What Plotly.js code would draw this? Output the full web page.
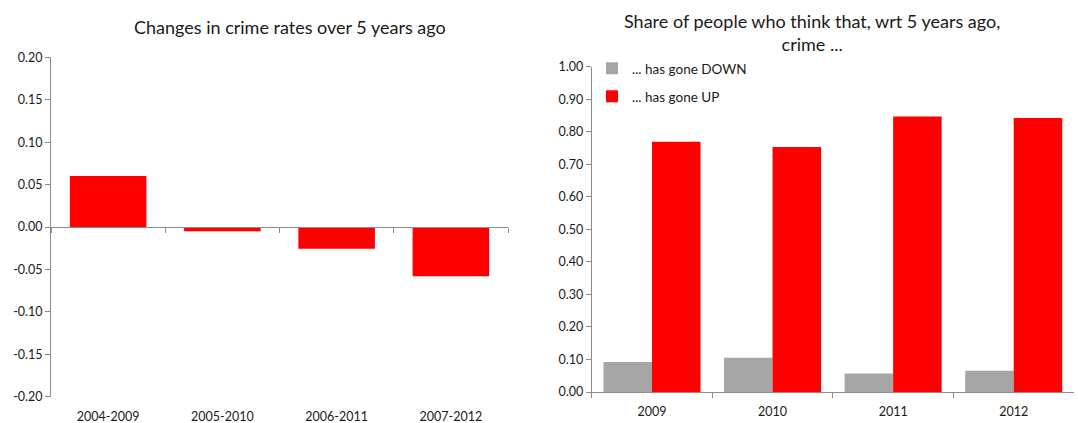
<!DOCTYPE html>
<html>
<head>
<meta charset="utf-8">
<script src="https://cdn.plot.ly/plotly-3.0.1.min.js"></script>
<style>html,body{margin:0;padding:0;background:#fff;}#chart{width:1078px;height:423px;}</style>
</head>
<body>
<div id="chart"></div>
<script>
// Left chart data
const periods = ["2004-2009", "2005-2010", "2006-2011", "2007-2012"];
const crimeChange = [0.060, -0.005, -0.0255, -0.058];
const leftTickVals = [-0.20, -0.15, -0.10, -0.05, 0.00, 0.05, 0.10, 0.15, 0.20];
const leftTickText = ["-0.20", "-0.15", "-0.10", "-0.05", "0.00", "0.05", "0.10", "0.15", "0.20"];

// Right chart data
const years = ["2009", "2010", "2011", "2012"];
const goneDown = [0.092, 0.105, 0.057, 0.065];
const goneUp = [0.769, 0.753, 0.847, 0.842];
const rightTickVals = [0, 0.1, 0.2, 0.3, 0.4, 0.5, 0.6, 0.7, 0.8, 0.9, 1.0];
const rightTickText = ["0.00", "0.10", "0.20", "0.30", "0.40", "0.50", "0.60", "0.70", "0.80", "0.90", "1.00"];

const leftTitle = "Changes in crime rates over 5 years ago";
const rightTitle = "Share of people who think that, wrt 5 years ago,<br>crime ...";
const seriesNames = ["... has gone DOWN", "... has gone UP"];

const FONT = "Lato, 'Open Sans', sans-serif";
const TXT = "#1a1a1a";
const AX = "#8c8c8c";
const W = 1078, H = 423;
const px = v => v / W;
const py = v => 1 - v / H;

const traces = [
  {type: "bar", x: periods, y: crimeChange, xaxis: "x", yaxis: "y",
   marker: {color: "#ff0000"}, width: 0.67, showlegend: false, hoverinfo: "x+y"},
  {type: "bar", x: years, y: goneDown, xaxis: "x2", yaxis: "y2", name: seriesNames[0],
   marker: {color: "#a6a6a6"}, legend: "legend"},
  {type: "bar", x: years, y: goneUp, xaxis: "x2", yaxis: "y2", name: seriesNames[1],
   marker: {color: "#ff0000"}, legend: "legend2"}
];

const leftYDom = [py(396.7), py(57.3)];
const rightYDom = [py(392), py(66.7)];

const layout = {
  width: W, height: H,
  margin: {l: 0, r: 0, t: 0, b: 0},
  paper_bgcolor: "#fff", plot_bgcolor: "#fff",
  font: {family: FONT, size: 12, color: TXT},
  barmode: "group", bargap: 0.195, bargroupgap: 0,
  xaxis: {
    domain: [px(51), px(508)], anchor: "free", position: (leftYDom[0] + leftYDom[1]) / 2,
    type: "category", range: [-0.5, 3.5],
    showline: true, linecolor: AX, linewidth: 1,
    ticks: "outside", tickson: "boundaries", ticklen: 5, tickcolor: AX,
    ticklabelstandoff: 178, showgrid: false, zeroline: false,
    tickfont: {family: FONT, size: 12.5, color: TXT}
  },
  yaxis: {
    domain: leftYDom, anchor: "x", range: [-0.2, 0.2],
    tickvals: leftTickVals, ticktext: leftTickText,
    showline: true, linecolor: AX, linewidth: 1,
    ticks: "outside", ticklen: 5, tickcolor: AX,
    showgrid: false, zeroline: false,
    tickfont: {family: FONT, size: 12.5, color: TXT}
  },
  xaxis2: {
    domain: [px(591.7), px(1074)], anchor: "y2",
    type: "category", range: [-0.5, 3.5],
    showline: true, linecolor: AX, linewidth: 1,
    ticks: "outside", tickson: "boundaries", ticklen: 5, tickcolor: AX,
    ticklabelstandoff: 8, showgrid: false, zeroline: false,
    tickfont: {family: FONT, size: 12.5, color: TXT}
  },
  yaxis2: {
    domain: rightYDom, anchor: "x2", range: [0, 1],
    tickvals: rightTickVals, ticktext: rightTickText,
    showline: true, linecolor: AX, linewidth: 1,
    ticks: "outside", ticklen: 5, tickcolor: AX,
    showgrid: false, zeroline: false,
    tickfont: {family: FONT, size: 12.5, color: TXT}
  },
  legend: {
    x: px(592), y: py(53), xanchor: "left", yanchor: "top",
    bgcolor: "rgba(0,0,0,0)", font: {family: FONT, size: 13.5, color: TXT},
    itemwidth: 30
  },
  legend2: {
    x: px(592), y: py(81), xanchor: "left", yanchor: "top",
    bgcolor: "rgba(0,0,0,0)", font: {family: FONT, size: 13.5, color: TXT},
    itemwidth: 30
  },
  annotations: [
    {text: leftTitle, xref: "paper", yref: "paper", x: px(290), y: py(27),
     xanchor: "center", yanchor: "middle", showarrow: false,
     font: {family: FONT, size: 18, color: TXT}},
    {text: rightTitle, xref: "paper", yref: "paper", x: px(812), y: py(32),
     xanchor: "center", yanchor: "middle", showarrow: false,
     font: {family: FONT, size: 18, color: TXT}}
  ]
};

Plotly.newPlot("chart", traces, layout, {displayModeBar: false, responsive: false});
</script>
</body>
</html>
